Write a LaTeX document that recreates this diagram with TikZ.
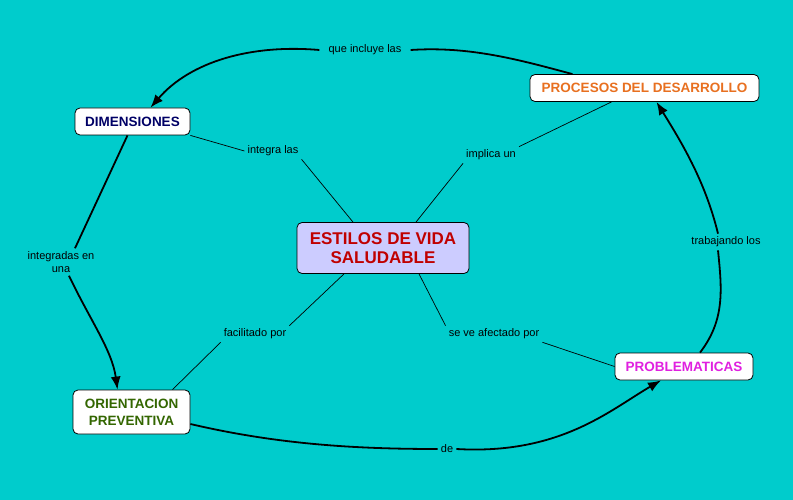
\documentclass[tikz,border=0pt]{standalone}
\usepackage{fontspec}
\setmainfont{Liberation Sans}
\usetikzlibrary{arrows.meta}
\definecolor{bg}{HTML}{00CCCC}
\definecolor{lav}{HTML}{CCCCFF}
\definecolor{tred}{HTML}{C00000}
\definecolor{torange}{HTML}{E87020}
\definecolor{tnavy}{HTML}{000066}
\definecolor{tgreen}{HTML}{336600}
\definecolor{tmag}{HTML}{E020E0}
\tikzset{
  concept/.style={draw=black, line width=0.8pt, rounded corners=5pt, fill=white, align=center,
    font=\fontsize{13.5}{15}\selectfont\bfseries, inner xsep=6pt, inner ysep=4pt},
  lbl/.style={font=\fontsize{11}{13}\selectfont, align=center, inner sep=3pt},
  thick link/.style={line width=1.8pt, black},
  thin link/.style={line width=0.7pt, black},
  arr/.style={-{Latex[length=13pt,width=10pt]}}
}
\begin{document}
\begin{tikzpicture}[x=1pt,y=-1pt]
\fill[bg] (0,0) rectangle (793,500);
\useasboundingbox (0,0) rectangle (793,500);

% concepts
\node[concept, fill=lav, text=tred, font=\fontsize{17}{19}\selectfont\bfseries, minimum width=172pt, minimum height=51pt] (est) at (383,248) {ESTILOS DE VIDA\\SALUDABLE};
\node[concept, text=torange, minimum width=229pt, minimum height=27pt] (proc) at (644.5,88) {PROCESOS DEL DESARROLLO};
\node[concept, text=tnavy, minimum width=115pt, minimum height=27pt] (dim) at (132.5,121.5) {DIMENSIONES};
\node[concept, text=tgreen, minimum width=117pt, minimum height=44pt, font=\fontsize{13.5}{17}\selectfont\bfseries] (ori) at (131.5,412) {ORIENTACION\\PREVENTIVA};
\node[concept, text=tmag, minimum width=138pt, minimum height=27pt] (prob) at (684,366.5) {PROBLEMATICAS};

% labels
\node[lbl] (l1) at (365,50) {que incluye las};
\node[lbl] (l2) at (273,151) {integra las};
\node[lbl] (l3) at (491,155) {implica un};
\node[lbl] (l4) at (61,262) {integradas en\\una};
\node[lbl] (l5) at (726,242) {trabajando los};
\node[lbl] (l6) at (255,334) {facilitado por};
\node[lbl] (l7) at (494,334) {se ve afectado por};
\node[lbl] (l8) at (447,449) {de};

% thick arrows
\draw[thick link] ([xshift=-72pt]proc.north) .. controls (520,60) and (470,46) .. ([xshift=6pt]l1.east);
\draw[thick link, arr] ([xshift=-6pt]l1.west) .. controls (250,44) and (190,62) .. ([xshift=18pt]dim.north);
\draw[thick link] ([xshift=-5pt]dim.south) -- ([xshift=14pt]l4.north);
\draw[thick link, arr] ([xshift=8pt]l4.south) .. controls (90,320) and (112,350) .. ([xshift=-14pt]ori.north);
\draw[thick link] ([yshift=-12pt]ori.east) .. controls (280,445) and (360,449) .. (l8.west);
\draw[thick link, arr] (l8.east) .. controls (560,455) and (610,410) .. ([xshift=-23pt]prob.south);
\draw[thick link] ([xshift=16pt]prob.north) .. controls (725,320) and (722,290) .. ([xshift=-8pt]l5.south);
\draw[thick link, arr] ([xshift=-8pt]l5.north) .. controls (705,180) and (680,140) .. ([xshift=12pt]proc.south);

% thin links
\draw[thin link] (dim.south east) -- (l2.west);
\draw[thin link] (l2.south east) -- ([xshift=-30pt]est.north);
\draw[thin link] ([xshift=33pt]est.north) -- (l3.south west);
\draw[thin link] (l3.north east) -- ([xshift=-33pt]proc.south);
\draw[thin link] ([xshift=-39pt]est.south) -- (l6.north east);
\draw[thin link] (l6.south west) -- ([xshift=41pt]ori.north);
\draw[thin link] ([xshift=36pt]est.south) -- (l7.north west);
\draw[thin link] (l7.south east) -- (prob.west);
\end{tikzpicture}
\end{document}
